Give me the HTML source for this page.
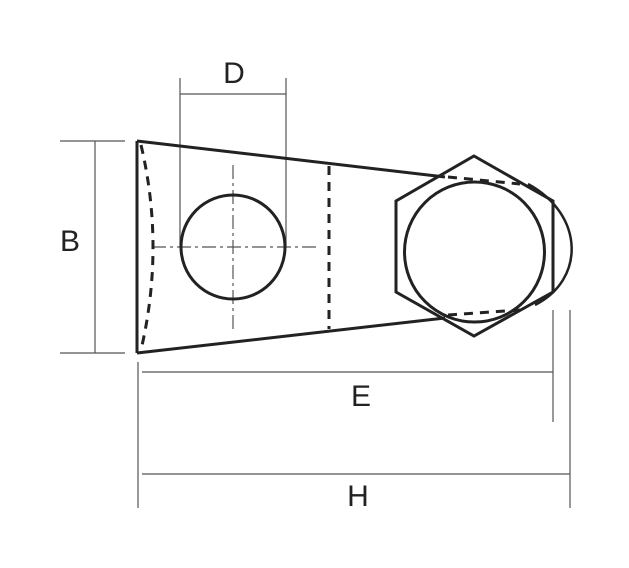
<!DOCTYPE html>
<html><head><meta charset="utf-8"><style>html,body{margin:0;padding:0;background:#fff}svg{display:block}</style></head>
<body>
<svg width="629" height="568" viewBox="0 0 629 568" xmlns="http://www.w3.org/2000/svg">
<g fill="none" stroke="#555" stroke-width="1.2">
 <line x1="180" y1="78" x2="180" y2="247"/>
 <line x1="286" y1="78" x2="286" y2="247"/>
 <line x1="180" y1="94" x2="286" y2="94"/>
 <line x1="60" y1="141" x2="125" y2="141"/>
 <line x1="60" y1="353" x2="125" y2="353"/>
 <line x1="95" y1="141" x2="95" y2="353"/>
 <line x1="138" y1="362" x2="138" y2="508"/>
 <line x1="142" y1="372" x2="553" y2="372"/>
 <line x1="553" y1="310" x2="553" y2="422"/>
 <line x1="570" y1="310" x2="570" y2="508"/>
 <line x1="142" y1="474" x2="570" y2="474"/>
 <line x1="152" y1="247" x2="316" y2="247" stroke-dasharray="14,4,3,4"/>
 <line x1="233" y1="165" x2="233" y2="330" stroke-dasharray="14,4,3,4"/>
</g>
<g fill="none" stroke="#222" stroke-width="3">
 <path d="M137 141 L445 177 M137 353 L445 318 M137 141 L137 353"/>
 <circle cx="233" cy="247" r="52"/>
 <polygon points="474,156 553,201 553,292 474,336 396,292 396,201"/>
 <circle cx="474.5" cy="252" r="70"/>
 <path d="M528 184 C585 215 585 280 535 305" stroke-width="2.5"/>
</g>
<g fill="none" stroke="#222" stroke-width="3" stroke-dasharray="9,7">
 <path d="M141 145 Q165 247 141 350"/>
 <line x1="329" y1="166" x2="329" y2="329"/>
 <line x1="448" y1="177" x2="520" y2="184"/>
 <line x1="448" y1="315" x2="520" y2="310"/>
</g>
<g font-family="Liberation Sans, sans-serif" font-size="30" fill="#222" text-anchor="middle">
 <text x="234" y="83">D</text>
 <text x="70" y="251">B</text>
 <text x="361" y="406">E</text>
 <text x="358" y="506">H</text>
</g>
</svg>
</body></html>
